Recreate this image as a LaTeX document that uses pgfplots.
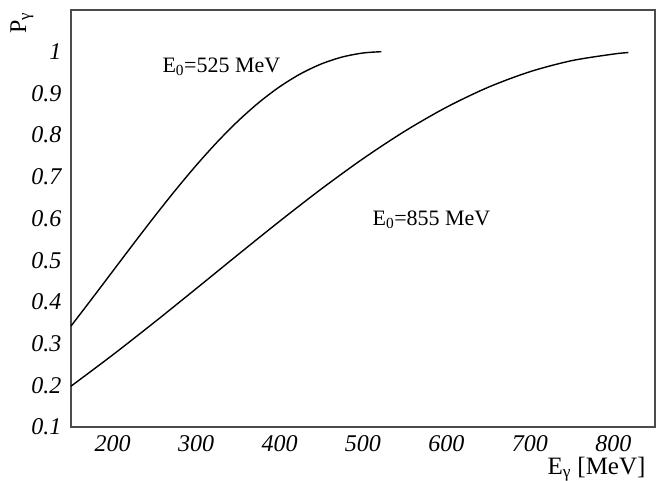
\documentclass[border=0pt]{standalone}
\usepackage{fontspec}
\setmainfont{Liberation Serif}
\usepackage{pgfplots}
\pgfplotsset{compat=1.18}
\begin{document}
\fontsize{22bp}{26bp}\selectfont
\begin{tikzpicture}
\path[use as bounding box] (-71bp,-54bp) rectangle (589bp,427bp);
\begin{axis}[
  at={(0,0)}, anchor=south west,
  scale only axis, width=584bp, height=417bp,
  xmin=150, xmax=850, ymin=0.1, ymax=1.1,
  xtick={200,300,...,800},
  ytick={0.1,0.2,0.3,0.4,0.5,0.6,0.7,0.8,0.9,1},
  yticklabels={0.1,0.2,0.3,0.4,0.5,0.6,0.7,0.8,0.9,1},
  major tick length=0pt,
  axis line style={draw=black!70, line width=1.4bp},
  /pgf/number format/assume math mode=true,
  ticklabel style={font=\fontsize{24bp}{28bp}\selectfont\itshape},
  xticklabel style={yshift=-1bp},
  yticklabel style={xshift=-2bp},
  clip=false,
]
\addplot[black, line width=1.4bp, no marks, smooth] coordinates {
(150,0.34211) (175,0.40741) (200,0.47352) (225,0.53957) (250,0.60458)
(275,0.66750) (300,0.72727) (325,0.78287) (350,0.83333) (375,0.87786)
(400,0.91582) (425,0.94680) (450,0.97059) (475,0.98721) (500,0.99688) (522,1.0)
};
\addplot[black, line width=1.4bp, no marks, smooth] coordinates {
(150,0.19789) (200,0.27287) (250,0.35120) (300,0.43172) (350,0.51299)
(400,0.59329) (450,0.67073) (500,0.74335) (550,0.80923) (600,0.86676)
(650,0.91461) (700,0.95195) (750,0.97845) (800,0.99426) (818,0.99800)
};
\node[anchor=base west] at (axis cs:250.7,0.951) {E\textsubscript{0}=525 MeV};
\node[anchor=base west] at (axis cs:502.5,0.583) {E\textsubscript{0}=855 MeV};
\node[anchor=base east, font=\fontsize{25bp}{29bp}\selectfont] at ([xshift=582bp,yshift=-47bp]rel axis cs:0,0) {E\textsubscript{γ} [MeV]};
\node[anchor=center, rotate=90, font=\fontsize{24bp}{28bp}\selectfont] at ([xshift=-49bp,yshift=-13bp]rel axis cs:0,1) {P\textsubscript{γ}};
\end{axis}
\end{tikzpicture}
\end{document}
